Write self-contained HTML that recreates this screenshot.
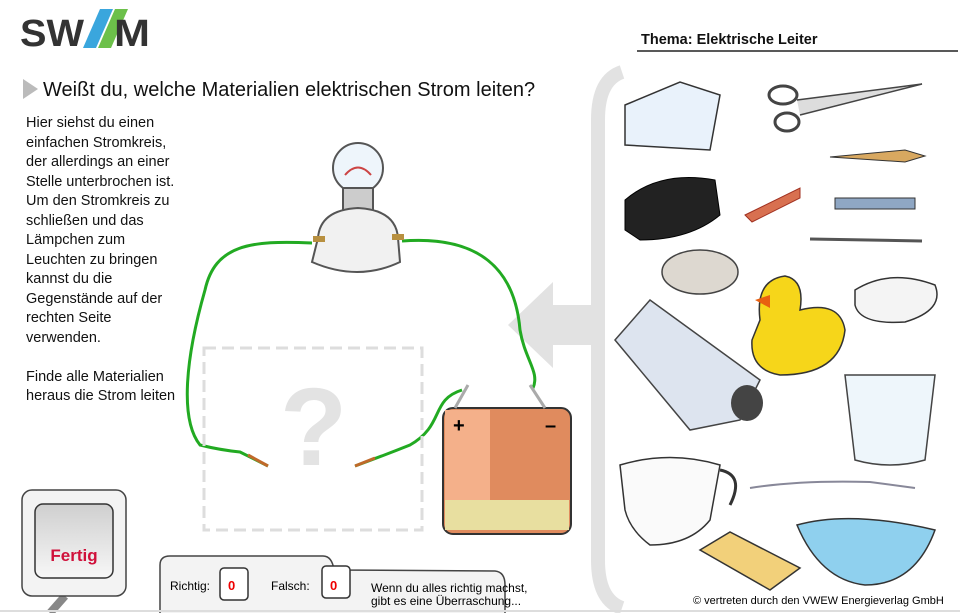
<!DOCTYPE html>
<html><head><meta charset="utf-8"><style>
body{margin:0;width:960px;height:613px;overflow:hidden;background:#fff;font-family:"Liberation Sans",sans-serif;}
svg{position:absolute;left:0;top:0}
.t{position:absolute;font-size:14.5px;line-height:19.5px;color:#111}
</style></head><body>
<svg width="960" height="613" viewBox="0 0 960 613">
<defs><linearGradient id="g" x1="0" y1="0" x2="0" y2="1"><stop offset="0" stop-color="#cfcfcf"/><stop offset="1" stop-color="#f7f7f7"/></linearGradient></defs>
<!-- logo -->
<text x="20" y="46" font-family="Liberation Sans" font-weight="bold" font-size="38" fill="#333" transform="scale(1,1)" textLength="64" lengthAdjust="spacingAndGlyphs">SW</text>
<polygon points="83,48 96,48 113,9 100,9" fill="#3aa6dd"/>
<polygon points="98,48 111,48 128,9 115,9" fill="#6cc04a"/>
<text x="114" y="46" font-family="Liberation Sans" font-weight="bold" font-size="38" fill="#333" textLength="36" lengthAdjust="spacingAndGlyphs">M</text>
<text x="641" y="44" font-size="14.5" font-weight="bold" fill="#111">Thema: Elektrische Leiter</text>
<line x1="637" y1="51" x2="958" y2="51" stroke="#222" stroke-width="1.5"/>
<polygon points="23,79 38,89 23,99" fill="#bbb"/>
<text x="43" y="96" font-size="20" fill="#111">Weißt du, welche Materialien elektrischen Strom leiten?</text>
<!-- bracket & arrow -->
<path d="M622,72 Q598,80 598,120 L598,560 Q598,600 622,608" stroke="#e2e2e2" stroke-width="14" fill="none"/>
<polygon points="508,325 553,282 553,305 598,305 598,345 553,345 553,368" fill="#e2e2e2"/>
<!-- wires -->
<path d="M312,243 C250,240 215,245 205,290 C185,360 180,420 200,445 Q220,450 240,452 L268,466" stroke="#22aa22" stroke-width="3" fill="none"/>
<path d="M402,241 C480,235 515,270 520,330 C525,360 540,372 533,388" stroke="#22aa22" stroke-width="3" fill="none"/>
<path d="M462,390 C430,400 445,425 410,445 Q385,455 355,466" stroke="#22aa22" stroke-width="3" fill="none"/>
<path d="M248,455 L268,466 M375,458 L355,466" stroke="#c0692a" stroke-width="3"/>
<!-- bulb -->
<circle cx="358" cy="168" r="25" fill="#eef5fb" stroke="#555" stroke-width="2"/>
<path d="M345,175 q13,-15 26,0" stroke="#c44" stroke-width="2" fill="none"/>
<rect x="343" y="188" width="30" height="22" fill="#ccc" stroke="#555" stroke-width="2"/>
<path d="M318,238 Q320,210 358,208 Q396,210 398,238 L400,262 Q358,282 312,262 Z" fill="#f1f1f1" stroke="#555" stroke-width="2"/>
<rect x="313" y="236" width="12" height="6" fill="#b89040"/><rect x="392" y="234" width="12" height="6" fill="#b89040"/>
<!-- question box -->
<rect x="204" y="348" width="218" height="182" fill="none" stroke="#ddd" stroke-width="3" stroke-dasharray="12,6"/>
<text x="280" y="465" font-size="110" fill="#e3e3e3" font-weight="bold">?</text>
<!-- battery -->
<rect x="443" y="408" width="128" height="126" rx="10" fill="#e08b5e" stroke="#333" stroke-width="2"/>
<rect x="445" y="410" width="45" height="120" fill="#f4b08a"/>
<rect x="445" y="500" width="124" height="30" fill="#e8dfa0"/>
<text x="453" y="432" font-size="20" font-weight="bold">+</text><text x="545" y="432" font-size="20" font-weight="bold">–</text>
<path d="M455,408 L468,385 M545,408 L530,385" stroke="#aaa" stroke-width="3"/>
<!-- fertig button -->
<path d="M65,596 L50,613" stroke="#888" stroke-width="8"/>
<rect x="22" y="490" width="104" height="106" rx="10" fill="#f3f3f3" stroke="#444" stroke-width="1.5"/>
<rect x="35" y="504" width="78" height="74" rx="8" fill="url(#g)" stroke="#333" stroke-width="1.5"/>
<text x="74" y="561" font-size="17" font-weight="bold" fill="#d0103a" text-anchor="middle">Fertig</text>
<!-- score panel -->
<path d="M160,613 L160,565 Q160,556 170,556 L323,556 Q332,556 334,570 L495,571 Q505,572 505,585 L505,613" fill="#f3f3f3" stroke="#444" stroke-width="1.5"/>
<text x="170" y="590" font-size="12">Richtig:</text>
<rect x="220" y="568" width="28" height="32" rx="4" fill="#fff" stroke="#333" stroke-width="1.5"/>
<text x="228" y="590" font-size="13" font-weight="bold" fill="#e00">0</text>
<text x="271" y="590" font-size="12">Falsch:</text>
<rect x="322" y="566" width="28" height="32" rx="4" fill="#fff" stroke="#333" stroke-width="1.5"/>
<text x="330" y="590" font-size="13" font-weight="bold" fill="#e00">0</text>
<text x="371" y="592" font-size="12">Wenn du alles richtig machst,</text>
<text x="371" y="605" font-size="12">gibt es eine Überraschung...</text>
<line x1="0" y1="611" x2="960" y2="611" stroke="#ddd" stroke-width="2"/>
<text x="693" y="604" font-size="11">© vertreten durch den VWEW Energieverlag GmbH</text>
<!-- objects -->
<polygon points="625,105 680,82 720,95 710,150 625,145" fill="#e9f2fb" stroke="#333" stroke-width="1.5"/>
<ellipse cx="783" cy="95" rx="14" ry="9" fill="none" stroke="#444" stroke-width="3"/>
<ellipse cx="787" cy="122" rx="12" ry="9" fill="none" stroke="#444" stroke-width="3"/>
<path d="M797,100 L922,84 L800,115" fill="#ddd" stroke="#444" stroke-width="1.5"/>
<polygon points="830,157 905,150 925,156 905,162" fill="#d8a860" stroke="#333"/>
<path d="M625,200 Q660,170 715,180 L720,215 Q690,240 640,240 L625,230 Z" fill="#222" stroke="#000"/>
<path d="M745,215 L800,188 L800,198 L752,222 Z" fill="#d87050" stroke="#a03020"/>
<rect x="835" y="198" width="80" height="11" fill="#8fa7c4" stroke="#333"/>
<line x1="810" y1="239" x2="922" y2="241" stroke="#555" stroke-width="3"/>
<ellipse cx="700" cy="272" rx="38" ry="22" fill="#ddd8d0" stroke="#444" stroke-width="1.5"/>
<path d="M760,320 Q755,280 785,276 Q805,280 800,310 Q840,300 845,330 Q840,375 780,375 Q750,370 752,340 Z" fill="#f6d61a" stroke="#333" stroke-width="1.5"/>
<polygon points="755,300 770,295 770,308" fill="#e86010"/>
<path d="M855,290 Q890,268 935,285 Q945,310 905,322 Q860,325 855,305 Z" fill="#f4f4f4" stroke="#333" stroke-width="1.5"/>
<polygon points="615,340 650,300 760,380 740,420 690,430" fill="#dde4ef" stroke="#444" stroke-width="1.5"/>
<ellipse cx="747" cy="403" rx="16" ry="18" fill="#444"/>
<path d="M845,375 L935,375 L925,460 Q890,470 855,460 Z" fill="#eef6fb" stroke="#444" stroke-width="1.5"/>
<path d="M620,465 Q670,450 720,465 L710,520 Q690,545 650,545 Q630,530 625,510 Z" fill="#fafafa" stroke="#333" stroke-width="1.5"/>
<path d="M720,470 q25,5 10,35" stroke="#333" stroke-width="3" fill="none"/>
<path d="M750,488 Q800,480 870,482 L915,488" stroke="#889" stroke-width="2" fill="none"/>
<path d="M797,525 Q850,510 935,530 Q915,585 865,585 Q820,580 797,525 Z" fill="#8fd0ee" stroke="#333" stroke-width="1.5"/>
<polygon points="700,550 730,532 800,568 770,590" fill="#f2d07a" stroke="#333" stroke-width="1.5"/>
</svg>
<div class="t" style="left:26px;top:114px">Hier siehst du einen<br>einfachen Stromkreis,<br>der allerdings an einer<br>Stelle unterbrochen ist.<br>Um den Stromkreis zu<br>schließen und das<br>Lämpchen zum<br>Leuchten zu bringen<br>kannst du die<br>Gegenstände auf der<br>rechten Seite<br>verwenden.<br><br>Finde alle Materialien<br>heraus die Strom leiten</div>
</body></html>
